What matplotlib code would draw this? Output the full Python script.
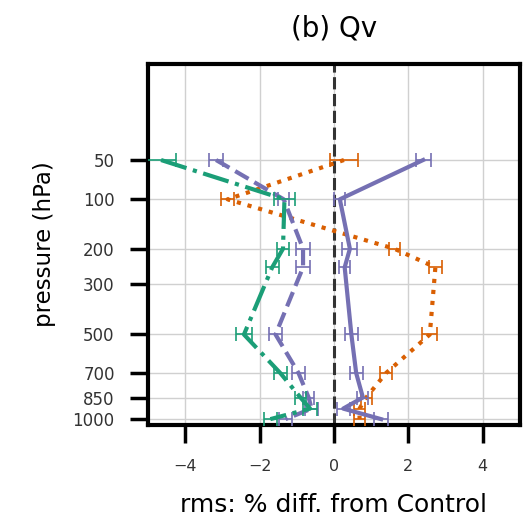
import numpy as np
import matplotlib
matplotlib.use("Agg")
import matplotlib.pyplot as plt

# pressure levels (hPa)
levels = [50, 100, 200, 250, 500, 700, 850, 925, 1000]
tick_levels = [50, 100, 200, 300, 500, 700, 850, 1000]

# rms % diff from Control
orange_val = [0.27, -2.86, 1.63, 2.73, 2.58, 1.40, 0.87, 0.69, 0.69]
orange_err = [0.38, 0.17, 0.16, 0.18, 0.20, 0.15, 0.15, 0.15, 0.15]
purple_val = [2.40, 0.16, 0.43, 0.29, 0.47, 0.60, 0.78, 0.25, 1.27]
purple_err = [0.20, 0.15, 0.20, 0.15, 0.18, 0.18, 0.15, 0.18, 0.18]
dashed_val = [-3.17, -1.35, -0.83, -0.83, -1.57, -0.95, -0.68, -0.60, -1.30]
dashed_err = [0.18, 0.15, 0.18, 0.18, 0.18, 0.18, 0.15, 0.18, 0.18]
green_val = [-4.65, -1.33, -1.37, -1.66, -2.42, -1.44, -0.90, -0.64, -1.71]
green_err = [0.41, 0.28, 0.16, 0.17, 0.22, 0.18, 0.15, 0.18, 0.18]

c_orange = "#d95f02"
c_purple = "#7570b3"
c_green = "#1b9e77"

fig = plt.figure(figsize=(5.25, 5.23), dpi=100)
ax = fig.add_axes([0.282, 0.187, 0.708, 0.691])

# y axis roughly scales like p**(1/3)
ax.set_yscale("function", functions=(lambda p: np.cbrt(p), lambda v: v ** 3))

series = [
    (orange_val, orange_err, c_orange, ":"),
    (purple_val, purple_err, c_purple, "-"),
    (dashed_val, dashed_err, c_purple, "--"),
    (green_val, green_err, c_green, "-."),
]
for vals, errs, col, ls in series:
    ax.plot(vals, levels, color=col, linestyle=ls, lw=3, zorder=3)
    ax.errorbar(vals, levels, xerr=errs, fmt="none", ecolor=col,
                elinewidth=1.2, capsize=5, capthick=1.2, zorder=3)

ax.axvline(0, color="#333333", linestyle="--", lw=2.2, dashes=(4, 1.5), zorder=2)

ax.set_xlim(-5, 5)
ax.set_ylim(1045, 2.4)
ax.set_yticks(tick_levels)
ax.set_yticklabels([str(t) for t in tick_levels])
ax.minorticks_off()
ax.set_xticks([-4, -2, 0, 2, 4])
ax.grid(True, color="#d0d0d0", lw=1)
ax.set_axisbelow(True)

for s in ax.spines.values():
    s.set_linewidth(3)
ax.tick_params(axis="both", length=13, width=2.5, color="black",
               labelcolor="#333333")
ax.tick_params(axis="y", labelsize=12, pad=11)
ax.tick_params(axis="x", labelsize=11.5, pad=11)

ax.set_ylabel("pressure (hPa)", fontsize=16.5, labelpad=12)
ax.set_xlabel("rms: % diff. from Control", fontsize=18, labelpad=14)
ax.set_title("(b) Qv", fontsize=20, pad=20)

fig.savefig("out.png", dpi=100)
